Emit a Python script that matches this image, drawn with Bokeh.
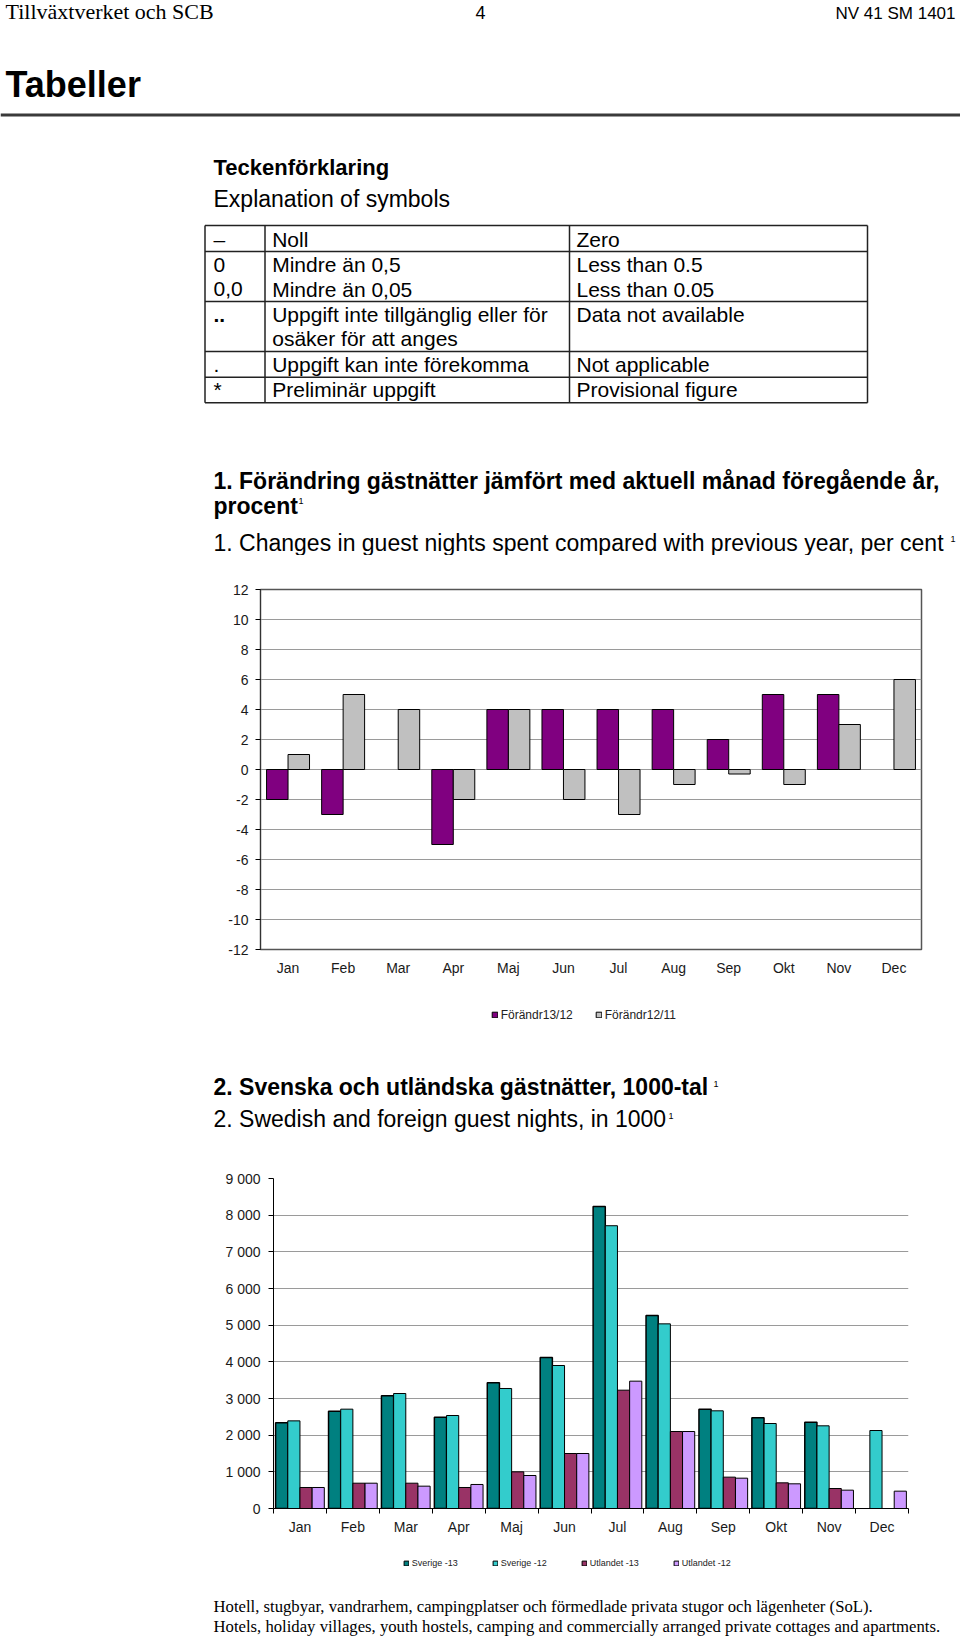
from bokeh.plotting import figure
from bokeh.models import Range1d, FixedTicker, Legend, LegendItem, ColumnDataSource
from bokeh.layouts import column
from bokeh.embed import file_html
from bokeh.resources import INLINE
from bokeh.core.properties import value

SANS = "Liberation Sans"
SERIF = "Liberation Serif"

# ---------------- data ----------------
months = ["Jan", "Feb", "Mar", "Apr", "Maj", "Jun", "Jul", "Aug", "Sep", "Okt", "Nov", "Dec"]

# Chart 1: change in guest nights, per cent
chg_13_12 = [-2, -3, None, -5, 4, 4, 4, 4, 2, 5, 5, None]
chg_12_11 = [1, 5, 4, -2, 4, -2, -3, -1, -0.3, -1, 3, 6]
chg_names = ["Förändr13/12", "Förändr12/11"]
chg_colors = ["#800080", "#C0C0C0"]
chg_ticks = [-12, -10, -8, -6, -4, -2, 0, 2, 4, 6, 8, 10, 12]
chg_tick_labels = ["-12", "-10", "-8", "-6", "-4", "-2", "0", "2", "4", "6", "8", "10", "12"]

# Chart 2: Swedish and foreign guest nights, in 1000
sverige_13 = [2336, 2655, 3073, 2490, 3427, 4118, 8234, 5261, 2709, 2473, 2355, None]
sverige_12 = [2390, 2709, 3136, 2536, 3273, 3900, 7712, 5036, 2664, 2318, 2255, 2127]
utlandet_13 = [573, 690, 690, 573, 1000, 1500, 3227, 2100, 855, 700, 545, None]
utlandet_12 = [573, 690, 609, 655, 900, 1500, 3473, 2100, 827, 673, 500, 473]
nights_names = ["Sverige -13", "Sverige -12", "Utlandet -13", "Utlandet -12"]
nights_colors = ["#008080", "#33CCCC", "#993366", "#CC99FF"]
nights_ticks = [0, 1000, 2000, 3000, 4000, 5000, 6000, 7000, 8000, 9000]
nights_tick_labels = ["0", "1 000", "2 000", "3 000", "4 000", "5 000", "6 000", "7 000", "8 000", "9 000"]

# Texts
header_left = "Tillväxtverket och SCB"
header_page = "4"
header_right = "NV 41 SM 1401"
section_title = "Tabeller"
symbols_title_sv = "Teckenförklaring"
symbols_title_en = "Explanation of symbols"
table_symbols = ["–", "0", "0,0", "..", "", ".", "*"]
table_sv = ["Noll", "Mindre än 0,5", "Mindre än 0,05", "Uppgift inte tillgänglig eller för",
            "osäker för att anges", "Uppgift kan inte förekomma", "Preliminär uppgift"]
table_en = ["Zero", "Less than 0.5", "Less than 0.05", "Data not available", "",
            "Not applicable", "Provisional figure"]
title1_sv_a = "1. Förändring gästnätter jämfört med aktuell månad föregående år,"
title1_sv_b = "procent"
title1_en = "1. Changes in guest nights spent compared with previous year, per cent"
title2_sv = "2. Svenska och utländska gästnätter, 1000-tal"
title2_en = "2. Swedish and foreign guest nights, in 1000"
footnote_mark = "1"
footer_sv = "Hotell, stugbyar, vandrarhem, campingplatser och förmedlade privata stugor och lägenheter (SoL)."
footer_en = "Hotels, holiday villages, youth hostels, camping and commercially arranged private cottages and apartments."

PAGE_W = 960
K_BASE = 0.35  # empirical offset of the alphabetic baseline


# ---------------- helpers ----------------
def blank(y0, y1):
    p = figure(width=PAGE_W, height=round(y1 - y0), x_range=Range1d(0, PAGE_W), y_range=Range1d(y1, y0),
               x_axis_type=None, y_axis_type=None, output_backend="svg", toolbar_location=None,
               min_border=0, min_border_left=0, min_border_right=0, min_border_top=0,
               min_border_bottom=0, title=None, frame_align=False)
    p.outline_line_color = None
    p.grid.visible = False
    return p


def put(p, x, base, s, size, font=SANS, style="normal", align="left", color="black"):
    p.text(x=[x], y=[base - K_BASE * size], text=[s], text_font=value(font),
           text_font_size=f"{size}px", text_font_style=style, text_align=align,
           text_baseline="alphabetic", text_color=color)


def style_axes(p):
    for ax in (p.xaxis[0], p.yaxis[0]):
        ax.major_label_text_font = SANS
        ax.major_label_text_font_size = "14px"
        ax.major_label_text_color = "#1a1a1a"


def key_legend(p, names, colors, widths, loc, glyph, font_px, spacing, label_h):
    """Legend of a chart, drawn in the page block below it (same bar styling).
    The key renderers are hidden; they only provide the swatch styling."""
    items = []
    for n, c, lw in zip(names, colors, widths):
        r = p.vbar(x=[-100], top=[-100], bottom=-90, width=1,
                   fill_color=c, line_color="black", line_width=lw, visible=False)
        items.append(LegendItem(label=n, renderers=[r], index=0))
    leg = Legend(items=items, orientation="horizontal", location=loc,
                 glyph_width=glyph, glyph_height=glyph, label_standoff=3, spacing=spacing,
                 padding=0, margin=0, label_height=label_h,
                 border_line_color=None, background_fill_alpha=0, inactive_fill_alpha=0,
                 label_text_font=SANS, label_text_font_size=f"{font_px}px",
                 label_text_color="#222222")
    p.add_layout(leg)


# ---------------- top block ----------------
pa = blank(0, 555)
put(pa, 5, 18.5, header_left, 22, SERIF)
put(pa, 480, 18.5, header_page, 18, align="center")
put(pa, 955, 18.5, header_right, 17, align="right")
put(pa, 5, 96.7, section_title, 36, style="bold")
pa.segment(x0=[0], y0=[114.5], x1=[PAGE_W], y1=[114.5], line_width=3, line_color="#3a3a3a")
put(pa, 213, 174.3, symbols_title_sv, 22, style="bold")
put(pa, 213, 206.7, symbols_title_en, 23)

tbl_left, tbl_c1, tbl_c2, tbl_right = 204.5, 264.5, 569, 867
hl = [225, 251, 301, 351, 376.7, 402.3]
pa.segment(x0=[tbl_left] * len(hl), y0=hl, x1=[tbl_right] * len(hl), y1=hl,
           line_width=1.5, line_color="#222222")
vx = [tbl_left, tbl_c1, tbl_c2, tbl_right]
pa.segment(x0=vx, y0=[hl[0]] * 4, x1=vx, y1=[hl[-1]] * 4, line_width=1.5, line_color="#222222")
row_base = [246, 271.7, 296, 321.7, 345, 371.7, 396.7]
for yb, s, sv, en in zip(row_base, table_symbols, table_sv, table_en):
    if s:
        put(pa, 213, yb, s, 21, style="bold" if s == ".." else "normal")
    if sv:
        put(pa, 271.7, yb, sv, 21)
    if en:
        put(pa, 576, yb, en, 21)

put(pa, 213, 488.3, title1_sv_a, 23, style="bold")
put(pa, 213, 513.3, title1_sv_b, 23, style="bold")
put(pa, 298, 504, footnote_mark, 9)
put(pa, 213, 550.5, title1_en, 23)
put(pa, 950, 542, footnote_mark, 9)

# ---------------- chart 1 ----------------
p1 = figure(width=PAGE_W, height=34 + 360 + 36, x_range=Range1d(0, 12), y_range=Range1d(-12, 12),
            output_backend="svg", toolbar_location=None, title=None, frame_align=False,
            min_border_left=260, min_border_right=39, min_border_top=34, min_border_bottom=36)
p1.outline_line_color = "#555555"
p1.outline_line_width = 1.5
p1.xgrid.visible = False
p1.ygrid.ticker = FixedTicker(ticks=chg_ticks)
p1.ygrid.grid_line_color = "#9a9a9a"
p1.ygrid.grid_line_width = 1.2

p1.yaxis.ticker = FixedTicker(ticks=chg_ticks)
p1.yaxis.major_label_overrides = dict(zip(chg_ticks, chg_tick_labels))
p1.yaxis.axis_line_color = "#333333"
p1.yaxis.major_tick_out = 5
p1.yaxis.major_tick_in = 0
p1.yaxis.minor_tick_line_color = None
p1.yaxis.major_label_standoff = 7
p1.xaxis.ticker = FixedTicker(ticks=[i + 0.5 for i in range(len(months))])
p1.xaxis.major_label_overrides = {i + 0.5: m for i, m in enumerate(months)}
p1.xaxis.axis_line_color = None
p1.xaxis.major_tick_line_color = None
p1.xaxis.minor_tick_line_color = None
p1.xaxis.major_tick_out = 0
p1.xaxis.major_tick_in = 0
p1.xaxis.major_label_standoff = 10
style_axes(p1)

for k, (series, off) in enumerate(zip([chg_13_12, chg_12_11], [-0.195, 0.195])):
    idx = [i for i, v in enumerate(series) if v is not None]
    src = ColumnDataSource(dict(x=[i + 0.5 + off for i in idx], top=[series[i] for i in idx]))
    p1.vbar(x="x", top="top", bottom=0, width=0.39, source=src,
            fill_color=chg_colors[k], line_color="black", line_width=1)

# ---------------- legend 1 + chart 2 titles ----------------
pc = blank(985, 1150)
key_legend(pc, chg_names, chg_colors, [1, 1], (490.7, 1150 - 1007.5 - 14), 7, 12, 22, 14)
put(pc, 213, 1095, title2_sv, 23, style="bold")
put(pc, 713, 1087, footnote_mark, 9)
put(pc, 213, 1126.7, title2_en, 23)
put(pc, 668, 1119, footnote_mark, 9)

# ---------------- chart 2 ----------------
p2 = figure(width=PAGE_W, height=28 + 330 + 35, x_range=Range1d(0, 12), y_range=Range1d(0, 9000),
            output_backend="svg", toolbar_location=None, title=None, frame_align=False,
            min_border_left=273, min_border_right=52, min_border_top=28, min_border_bottom=35)
p2.outline_line_color = None
p2.xgrid.visible = False
p2.ygrid.ticker = FixedTicker(ticks=nights_ticks)
p2.ygrid.grid_line_color = "#9a9a9a"
p2.ygrid.grid_line_width = 1.2

p2.yaxis.ticker = FixedTicker(ticks=nights_ticks)
p2.yaxis.major_label_overrides = dict(zip(nights_ticks, nights_tick_labels))
p2.yaxis.axis_line_color = "black"
p2.yaxis.major_tick_out = 5
p2.yaxis.major_tick_in = 0
p2.yaxis.minor_tick_line_color = None
p2.yaxis.major_label_standoff = 8
p2.xaxis.ticker = FixedTicker(ticks=[i + 0.5 for i in range(len(months))],
                              minor_ticks=list(range(len(months) + 1)))
p2.xaxis.major_label_overrides = {i + 0.5: m for i, m in enumerate(months)}
p2.xaxis.axis_line_color = "black"
p2.xaxis.major_tick_line_color = None
p2.xaxis.major_tick_out = 0
p2.xaxis.major_tick_in = 0
p2.xaxis.minor_tick_out = 5
p2.xaxis.minor_tick_in = 0
p2.xaxis.minor_tick_line_color = "black"
p2.xaxis.major_label_standoff = 5
style_axes(p2)

offsets = [-0.345, -0.115, 0.115, 0.345]
bar_lw = [1.5, 1, 1, 1]
for k, series in enumerate([sverige_13, sverige_12, utlandet_13, utlandet_12]):
    idx = [i for i, v in enumerate(series) if v is not None]
    src = ColumnDataSource(dict(x=[i + 0.5 + offsets[k] for i in idx], top=[series[i] for i in idx]))
    p2.vbar(x="x", top="top", bottom=0, width=0.23, source=src,
            fill_color=nights_colors[k], line_color="black", line_width=bar_lw[k])

# ---------------- legend 2 + footer ----------------
pe = blank(1543, 1636)
key_legend(pe, nights_names, nights_colors, [1, 1, 1, 1], (402.7, 1636 - 1557.5 - 11), 6, 9, 34, 11)
put(pe, 213, 1611.5, footer_sv, 16.7, SERIF)
put(pe, 213, 1631.5, footer_en, 16.7, SERIF)

layout = column(pa, p1, pc, p2, pe, spacing=0)
open("out.html", "w").write(file_html(layout, INLINE))
